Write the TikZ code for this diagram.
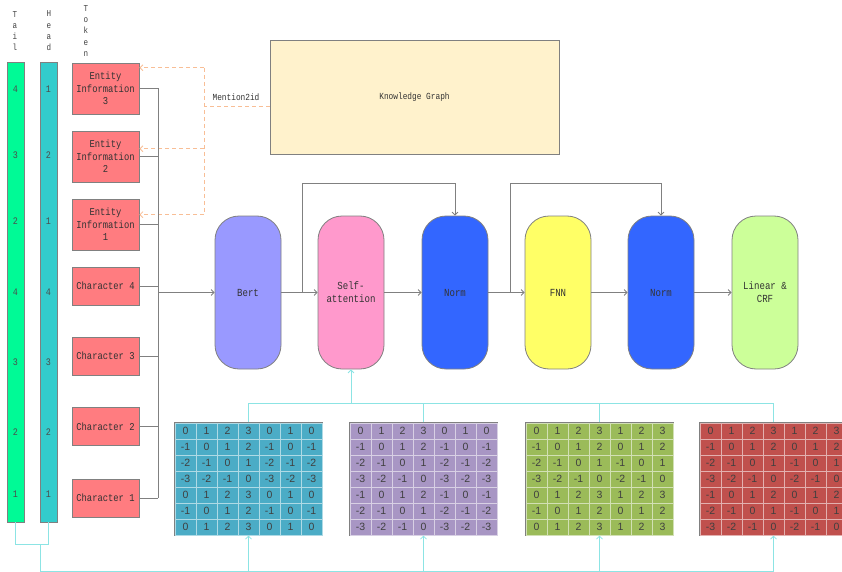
\documentclass[tikz,border=0pt]{standalone}
\usepackage{fontspec}
\newfontfamily\boxfont{Liberation Mono}[FakeStretch=0.84]
\newfontfamily\numfont{Liberation Sans}
\usetikzlibrary{arrows.meta,calc,matrix}

\definecolor{tailgreen}{RGB}{0,250,150}
\definecolor{headteal}{RGB}{51,204,204}
\definecolor{tokenred}{RGB}{255,124,128}
\definecolor{kgcream}{RGB}{255,242,204}
\definecolor{bertblue}{RGB}{153,153,255}
\definecolor{attnpink}{RGB}{255,153,204}
\definecolor{normblue}{RGB}{51,102,255}
\definecolor{fnnyellow}{RGB}{255,255,102}
\definecolor{crfgreen}{RGB}{204,255,153}
\definecolor{matblue}{RGB}{75,172,198}
\definecolor{matpurple}{RGB}{168,150,196}
\definecolor{matgreen}{RGB}{155,187,89}
\definecolor{matred}{RGB}{192,80,77}
\definecolor{linkcyan}{RGB}{140,228,228}
\definecolor{mentionorange}{RGB}{248,190,150}
\definecolor{edgegray}{RGB}{128,128,128}

\tikzset{
	>={Straight Barb[length=3pt,width=6pt]},
	bar/.style={draw=edgegray, fill=#1, line width=0.8pt, minimum width=17pt, minimum height=460pt, inner sep=0pt},
	barnum/.style={font=\boxfont\fontsize{10}{10}\selectfont, text=black!70},
	vlabel/.style={align=center, font=\boxfont\fontsize{9}{11.3}\selectfont, text=black!75},
	tokbox/.style={draw=edgegray, fill=tokenred, line width=0.8pt, minimum width=67pt, minimum height=#1, inner sep=0pt, align=center, font=\boxfont\fontsize{10.5}{12.5}\selectfont, text=black!80},
	block/.style={draw=edgegray, fill=#1, line width=0.8pt, rounded corners=24pt, minimum width=66pt, minimum height=153pt, inner sep=0pt, align=center, font=\boxfont\fontsize{10.8}{13}\selectfont, text=black!80},
	link/.style={draw=edgegray, line width=0.8pt},
	mention/.style={draw=mentionorange, line width=0.8pt, dash pattern=on 4pt off 3pt},
	cyanlink/.style={draw=linkcyan, line width=0.8pt},
	relmat/.style={matrix of nodes, draw=edgegray, line width=0.8pt, fill=#1, inner sep=0pt, column sep=-0.4pt, row sep=-0.4pt,
		nodes={draw=white!55!#1, line width=0.4pt, minimum width=21pt, minimum height=16pt, inner sep=0pt, anchor=center, font=\numfont\fontsize{10.5}{10.5}\selectfont, text=black!75}},
}

\begin{document}
\begin{tikzpicture}[x=1pt, y=-1pt]
	%%%%% START %%%%%
	\useasboundingbox (0,0) rectangle (842,572);
	\clip (0,0) rectangle (842,572);
	
	% position bars
	\node[vlabel] (taillabel) at (15,31) {T\\a\\i\\l};
	\node[vlabel] (headlabel) at (49,31) {H\\e\\a\\d};
	\node[vlabel] (toklabel) at (86,31) {T\\o\\k\\e\\n};
	\node[bar=tailgreen] (tail) at (15.5,292) {};
	\node[bar=headteal] (head) at (48.5,292) {};
	\foreach \d/\y [count=\i] in {4/89,3/155,2/221,4/292,3/362,2/432,1/494}
		\node[barnum] (tail\i) at (15.5,\y) {\d};
	\foreach \d/\y [count=\i] in {1/89,2/155,1/221,4/292,3/362,2/432,1/494}
		\node[barnum] (head\i) at (48.5,\y) {\d};
	
	% tokens
	\node[tokbox=51pt] (ei3) at (105.5,88.5) {Entity\\Information\\3};
	\node[tokbox=51pt] (ei2) at (105.5,156.5) {Entity\\Information\\2};
	\node[tokbox=51pt] (ei1) at (105.5,224.5) {Entity\\Information\\1};
	\node[tokbox=38pt] (ch4) at (105.5,286) {Character 4};
	\node[tokbox=38pt] (ch3) at (105.5,356) {Character 3};
	\node[tokbox=38pt] (ch2) at (105.5,426.5) {Character 2};
	\node[tokbox=38pt] (ch1) at (105.5,498) {Character 1};
	
	% knowledge graph
	\node[draw=edgegray, fill=kgcream, line width=0.8pt, minimum width=289pt, minimum height=114pt, font=\boxfont\fontsize{9.3}{11}\selectfont, text=black!80] (kg) at (414.5,97) {Knowledge Graph};
	\coordinate (tap) at (204,106);
	\node[font=\boxfont\fontsize{9.3}{11}\selectfont, text=black!80] (m2id) at (236,97) {Mention2id};
	\draw[mention] (kg.west |- tap) -- (tap);
	\coordinate (in3) at ($(ei3.north east)!0.1!(ei3.south east)$);
	\coordinate (in2) at ($(ei2.north east)!0.35!(ei2.south east)$);
	\coordinate (in1) at ($(ei1.north east)!0.31!(ei1.south east)$);
	\draw[mention] (tap |- in3) -- (tap |- in1);
	\draw[mention, ->] (tap |- in3) -- (in3);
	\draw[mention, ->] (tap |- in2) -- (in2);
	\draw[mention, ->] (tap |- in1) -- (in1);
	
	% encoder
	\node[block=bertblue] (bert) at (248,292.5) {Bert};
	\node[block=attnpink] (sa) at (351,292.5) {Self-\\attention};
	\node[block=normblue] (norm1) at (455,292.5) {Norm};
	\node[block=fnnyellow] (fnn) at (558,292.5) {FNN};
	\node[block=normblue] (norm2) at (661,292.5) {Norm};
	\node[block=crfgreen] (crf) at (765,292.5) {Linear \&\\CRF};
	
	\coordinate (bus) at (158,292.5);
	\foreach \b in {ei3,ei2,ei1,ch4,ch3,ch2,ch1}
		\draw[link] (\b.east) -- (\b.east -| bus);
	\draw[link] (ei3.east -| bus) -- (ch1.east -| bus);
	\draw[link, ->] (bus) -- (bert.west);
	
	\draw[link, ->] (bert.east) -- (sa.west);
	\draw[link, ->] (sa.east) -- (norm1.west);
	\draw[link, ->] (norm1.east) -- (fnn.west);
	\draw[link, ->] (fnn.east) -- (norm2.west);
	\draw[link, ->] (norm2.east) -- (crf.west);
	
	\coordinate (skip1) at ($(bert.east)!0.58!(sa.west)$);
	\coordinate (skip2) at ($(norm1.east)!0.62!(fnn.west)$);
	\draw[link, ->] (skip1) -- ++(0,-109.5) -| (norm1.north);
	\draw[link, ->] (skip2) -- ++(0,-109.5) -| (norm2.north);
	
	% relative position matrices
	\matrix[relmat=matblue] (mat1) at (248.5,479) {
		0 & 1 & 2 & 3 & 0 & 1 & 0 \\
		-1 & 0 & 1 & 2 & -1 & 0 & -1 \\
		-2 & -1 & 0 & 1 & -2 & -1 & -2 \\
		-3 & -2 & -1 & 0 & -3 & -2 & -3 \\
		0 & 1 & 2 & 3 & 0 & 1 & 0 \\
		-1 & 0 & 1 & 2 & -1 & 0 & -1 \\
		0 & 1 & 2 & 3 & 0 & 1 & 0 \\
	};
	\matrix[relmat=matpurple] (mat2) at (423.5,479) {
		0 & 1 & 2 & 3 & 0 & 1 & 0 \\
		-1 & 0 & 1 & 2 & -1 & 0 & -1 \\
		-2 & -1 & 0 & 1 & -2 & -1 & -2 \\
		-3 & -2 & -1 & 0 & -3 & -2 & -3 \\
		-1 & 0 & 1 & 2 & -1 & 0 & -1 \\
		-2 & -1 & 0 & 1 & -2 & -1 & -2 \\
		-3 & -2 & -1 & 0 & -3 & -2 & -3 \\
	};
	\matrix[relmat=matgreen] (mat3) at (599.5,479) {
		0 & 1 & 2 & 3 & 1 & 2 & 3 \\
		-1 & 0 & 1 & 2 & 0 & 1 & 2 \\
		-2 & -1 & 0 & 1 & -1 & 0 & 1 \\
		-3 & -2 & -1 & 0 & -2 & -1 & 0 \\
		0 & 1 & 2 & 3 & 1 & 2 & 3 \\
		-1 & 0 & 1 & 2 & 0 & 1 & 2 \\
		0 & 1 & 2 & 3 & 1 & 2 & 3 \\
	};
	\matrix[relmat=matred] (mat4) at (773.5,479) {
		0 & 1 & 2 & 3 & 1 & 2 & 3 \\
		-1 & 0 & 1 & 2 & 0 & 1 & 2 \\
		-2 & -1 & 0 & 1 & -1 & 0 & 1 \\
		-3 & -2 & -1 & 0 & -2 & -1 & 0 \\
		-1 & 0 & 1 & 2 & 0 & 1 & 2 \\
		-2 & -1 & 0 & 1 & -1 & 0 & 1 \\
		-3 & -2 & -1 & 0 & -2 & -1 & 0 \\
	};
	
	% matrices up to self-attention
	\coordinate (top) at ($(sa.south)+(0,34)$);
	\draw[cyanlink] (mat1.north) -- (mat1.north |- top) -- (mat4.north |- top) -- (mat4.north);
	\draw[cyanlink] (mat2.north) -- (mat2.north |- top);
	\draw[cyanlink] (mat3.north) -- (mat3.north |- top);
	\draw[cyanlink, ->] (top) -- (sa.south);
	
	% positions down to matrices
	\coordinate (join) at (40,544);
	\coordinate (bottom) at (40,571);
	\draw[cyanlink] (tail.south) -- (tail.south |- join) -- (head.south |- join) -- (head.south);
	\draw[cyanlink] (join) -- (bottom) -- (mat4.south |- bottom);
	\foreach \m in {mat1,mat2,mat3,mat4}
		\draw[cyanlink, ->] (\m.south |- bottom) -- (\m.south);
	
	%%%%% END %%%%%
\end{tikzpicture}
\end{document}
